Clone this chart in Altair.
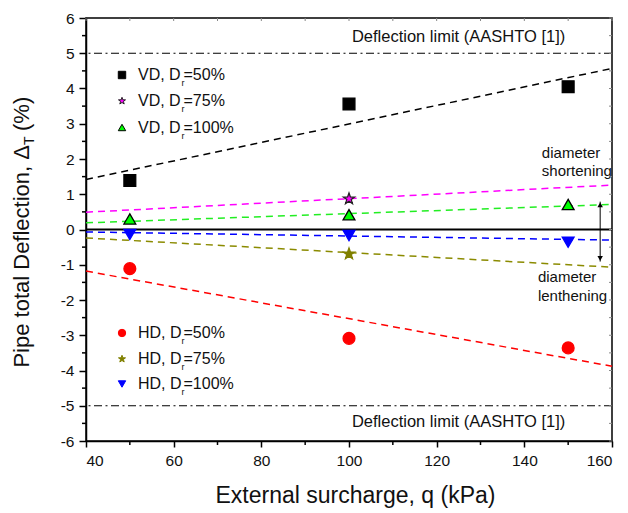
import altair as alt
import pandas as pd

# ---------------- data ----------------
q_points = [50, 100, 150]
series_names = ["VD50", "VD75", "VD100", "HD50", "HD75", "HD100"]
vd50 = [1.39, 3.56, 4.05]
vd75 = [None, 0.87, None]
vd100 = [0.30, 0.42, 0.71]
hd50 = [-1.11, -3.09, -3.36]
hd75 = [None, -0.69, None]
hd100 = [-0.14, -0.17, -0.36]

trend_q = [40, 160]
trend_vd50 = [1.42, 4.57]
trend_vd75 = [0.49, 1.26]
trend_vd100 = [0.19, 0.71]
trend_hd50 = [-1.18, -3.88]
trend_hd75 = [-0.24, -1.07]
trend_hd100 = [-0.07, -0.30]

limits = [5, -5]
limit_label = "Deflection limit (AASHTO [1])"

legend_prefix = ["VD, D", "VD, D", "VD, D", "HD, D", "HD, D", "HD, D"]
legend_suffix = ["=50%", "=75%", "=100%", "=50%", "=75%", "=100%"]

x_ticks = [40, 60, 80, 100, 120, 140, 160]
x_minor = [50, 70, 90, 110, 130, 150]
x_all = [40, 50, 60, 70, 80, 90, 100, 110, 120, 130, 140, 150, 160]
y_ticks = [-6, -5, -4, -3, -2, -1, 0, 1, 2, 3, 4, 5, 6]
y_minor = [-5.5, -4.5, -3.5, -2.5, -1.5, -0.5, 0.5, 1.5, 2.5, 3.5, 4.5, 5.5]

# ---------------- styling ----------------
FONT = "Liberation Sans"
W, H = 526, 423
star = ("M0,-1L0.235,-0.324L0.951,-0.309L0.380,0.124L0.588,0.809L0,0.4"
        "L-0.588,0.809L-0.380,0.124L-0.951,-0.309L-0.235,-0.324Z")
shapes = ["square", star, "triangle-up", "circle", star, "triangle-down"]
fills = ["#000000", "#ff00ff", "#00ff00", "#ff0000", "#808000", "#0000ff"]
strokes = ["#000000", "#222222", "#000000", "#ff0000", "#808000", "#0000ff"]
line_colors = ["#000000", "#ff00ff", "#22ee22", "#ff0000", "#8b8b00", "#0000ff"]

# ---------------- tables ----------------
rows = []
for name, vals in zip(series_names, [vd50, vd75, vd100, hd50, hd75, hd100]):
    for q, v in zip(q_points, vals):
        if v is not None:
            rows.append({"s": name, "q": q, "v": v})
pts = pd.DataFrame(rows)

trows = []
for name, vals in zip(series_names, [trend_vd50, trend_vd75, trend_vd100,
                                     trend_hd50, trend_hd75, trend_hd100]):
    for q, v in zip(trend_q, vals):
        trows.append({"s": name, "q": q, "v": v})
trend = pd.DataFrame(trows)

xscale = alt.Scale(domain=[40, 160], nice=False, zero=False)
yscale = alt.Scale(domain=[-6, 6], nice=False, zero=False)

xaxis = alt.Axis(values=x_ticks, title="External surcharge, q (kPa)", grid=False,
                 titleFont=FONT, labelFont=FONT, titleFontSize=23, labelFontSize=15.5,
                 titleFontWeight="normal", titleColor="#111111", labelColor="#111111",
                 domainColor="black", tickColor="black", domainWidth=1.5, tickWidth=1.5,
                 tickSize=6, labelPadding=6, titleX=269, titleY=61,
                 titleBaseline="alphabetic", titleAlign="center")
yaxis = alt.Axis(values=y_ticks, title=None, grid=False, labelFont=FONT,
                 labelFontSize=15.5, labelColor="#111111", domainColor="black",
                 tickColor="black", domainWidth=1.5, tickWidth=1.5, tickSize=7,
                 labelPadding=5, labelExpr="'' + datum.value")


def X(field):
    return alt.X(field, type="quantitative", scale=xscale, axis=xaxis)


def Y(field):
    return alt.Y(field, type="quantitative", scale=yscale, axis=yaxis)


sc = dict(domain=series_names)

lines = alt.Chart(trend).mark_line(strokeDash=[7, 5], strokeWidth=1.5).encode(
    x=X("q"), y=Y("v"),
    color=alt.Color("s:N", scale=alt.Scale(range=line_colors, **sc), legend=None),
    detail="s:N",
)

points = alt.Chart(pts).mark_point(filled=True, opacity=1, strokeWidth=1.3, size=140).encode(
    x=X("q"), y=Y("v"),
    shape=alt.Shape("s:N", scale=alt.Scale(range=shapes, **sc), legend=None),
    fill=alt.Fill("s:N", scale=alt.Scale(range=fills, **sc), legend=None),
    stroke=alt.Stroke("s:N", scale=alt.Scale(range=strokes, **sc), legend=None),
)

lim_df = pd.DataFrame({"v": limits})
limit_rules = alt.Chart(lim_df).mark_rule(
    color="black", strokeWidth=1.2, strokeDash=[8, 3.5, 2, 3.5]
).encode(y=Y("v"))

zero_rule = alt.Chart(pd.DataFrame({"v": [0]})).mark_rule(
    color="black", strokeWidth=2
).encode(y=Y("v"))

lim_txt = pd.DataFrame({"q": [125, 125], "v": [5.45, -5.45], "t": [limit_label, limit_label]})
limit_text = alt.Chart(lim_txt).mark_text(
    font=FONT, fontSize=16.5, color="#111111", align="center", baseline="middle"
).encode(x=X("q"), y=Y("v"), text="t:N")

ann = pd.DataFrame({
    "q": [144.0, 144.0, 143.1, 143.1],
    "v": [2.17, 1.65, -1.35, -1.89],
    "t": ["diameter", "shortening", "diameter", "lenthening"],
})
ann_text = alt.Chart(ann).mark_text(
    font=FONT, fontSize=15, color="#111111", align="left", baseline="middle"
).encode(x=X("q"), y=Y("v"), text="t:N")

arrow_df = pd.DataFrame({"q": [157.3], "v": [0.79], "v2": [-0.91]})
arrow_line = alt.Chart(arrow_df).mark_rule(color="black", strokeWidth=1).encode(
    x=X("q"), y=Y("v"), y2="v2:Q")
head_df = pd.DataFrame({"q": [157.3, 157.3], "v": [0.70, -0.82], "h": ["up", "down"]})
heads = alt.Chart(head_df).mark_point(filled=True, color="black", opacity=1, size=30).encode(
    x=X("q"), y=Y("v"),
    shape=alt.Shape("h:N", scale=alt.Scale(domain=["up", "down"],
                                           range=["triangle-up", "triangle-down"]), legend=None),
)

# minor ticks (outer) and faint mirrored ticks on top / right borders
xminor = alt.Chart(pd.DataFrame({"q": x_minor})).mark_rule(color="black", strokeWidth=1.5).encode(
    x=X("q"), y=alt.value(H), y2=alt.value(H + 4))
yminor = alt.Chart(pd.DataFrame({"v": y_minor})).mark_rule(color="black", strokeWidth=1.5).encode(
    y=Y("v"), x=alt.value(0), x2=alt.value(-4))
xtop = alt.Chart(pd.DataFrame({"q": x_all})).mark_rule(color="#888888", strokeWidth=1).encode(
    x=X("q"), y=alt.value(0), y2=alt.value(3))
yright = alt.Chart(pd.DataFrame({"v": y_ticks + y_minor})).mark_rule(
    color="#888888", strokeWidth=1).encode(y=Y("v"), x=alt.value(W), x2=alt.value(W - 3))

# legend (drawn as annotations)
leg_y = [57, 83, 109.5, 315, 341, 366]
leg_rows = []
for i, name in enumerate(series_names):
    leg_rows.append({"s": name, "py": leg_y[i], "pre": legend_prefix[i], "suf": legend_suffix[i]})
leg = pd.DataFrame(leg_rows)
leg_marks = alt.Chart(leg).mark_point(filled=True, opacity=1, strokeWidth=1, size=55).encode(
    x=alt.value(36), y=alt.Y("py:Q", scale=None),
    shape=alt.Shape("s:N", scale=alt.Scale(range=shapes, **sc), legend=None),
    fill=alt.Fill("s:N", scale=alt.Scale(range=fills, **sc), legend=None),
    stroke=alt.Stroke("s:N", scale=alt.Scale(range=strokes, **sc), legend=None),
)
LX = 52
leg_pre = alt.Chart(leg).mark_text(font=FONT, fontSize=16, align="left", baseline="middle",
                                   color="#111111").encode(
    x=alt.value(LX), y=alt.Y("py:Q", scale=None), text="pre:N")
leg_r = alt.Chart(leg).mark_text(font=FONT, fontSize=9, align="left", baseline="middle",
                                 color="#111111", dy=8, dx=43.5).encode(
    x=alt.value(LX), y=alt.Y("py:Q", scale=None), text=alt.value("r"))
leg_suf = alt.Chart(leg).mark_text(font=FONT, fontSize=16, align="left", baseline="middle",
                                   color="#111111", dx=45.5).encode(
    x=alt.value(LX), y=alt.Y("py:Q", scale=None), text="suf:N")

# y-axis title with subscript
YT_X = -57
ytitle_main = alt.Chart(pd.DataFrame({"t": ["Pipe total Deflection, \u0394"]})).mark_text(
    font=FONT, fontSize=22, angle=270, align="right", baseline="alphabetic", color="#111111"
).encode(x=alt.value(YT_X), y=alt.value(127), text="t:N")
ytitle_sub = alt.Chart(pd.DataFrame({"t": ["T"]})).mark_text(
    font=FONT, fontSize=14, angle=270, align="left", baseline="alphabetic", color="#111111"
).encode(x=alt.value(YT_X + 5), y=alt.value(127), text="t:N")
ytitle_end = alt.Chart(pd.DataFrame({"t": ["(%)"]})).mark_text(
    font=FONT, fontSize=22, angle=270, align="left", baseline="alphabetic", color="#111111"
).encode(x=alt.value(YT_X), y=alt.value(113), text="t:N")

chart = alt.layer(
    limit_rules, zero_rule, lines, points, limit_text, ann_text, arrow_line, heads,
    xminor, yminor, xtop, yright, leg_marks, leg_pre, leg_r, leg_suf,
    ytitle_main, ytitle_sub, ytitle_end,
).resolve_scale(shape="independent", fill="independent", stroke="independent",
                y="shared").properties(
    width=W, height=H,
    autosize=alt.AutoSizeParams(type="none"),
    padding={"left": 86, "top": 18, "right": 16, "bottom": 72},
    background="white",
).configure_view(stroke="black", strokeWidth=1.5)

chart.save("out.html", embed_options={"renderer": "svg", "actions": False})
